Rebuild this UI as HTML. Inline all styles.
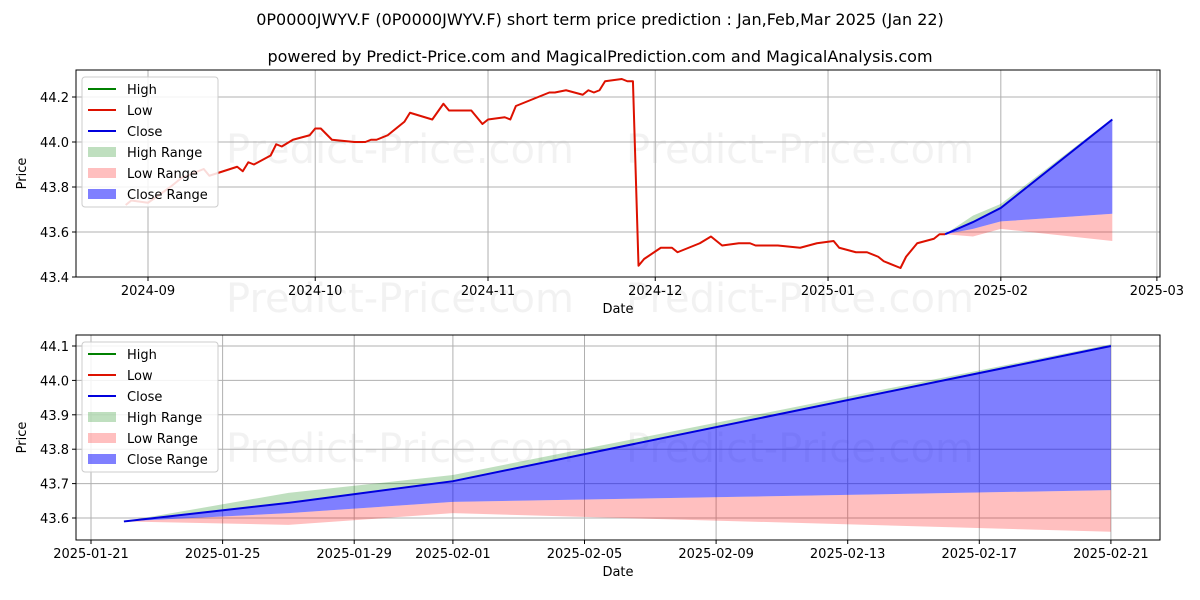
<!DOCTYPE html>
<html><head><meta charset="utf-8">
<style>
body{margin:0;background:#fff;}
svg{display:block;font-family:"DejaVu Sans","Liberation Sans",sans-serif;}
</style></head>
<body>
<svg id="chart" width="1200" height="600" viewBox="0 0 1200 600" xmlns="http://www.w3.org/2000/svg">
<text x="600" y="25" text-anchor="middle" font-size="16">0P0000JWYV.F (0P0000JWYV.F) short term price prediction : Jan,Feb,Mar 2025 (Jan 22)</text>
<text x="600" y="62" text-anchor="middle" font-size="16">powered by Predict-Price.com and MagicalPrediction.com and MagicalAnalysis.com</text>
<g id="top"></g>
<g id="bot"></g>
</svg>
<script>
// historical data: day offsets from 2024-09-01 and prices
const histDays = [-4,-3,0,4,6,10,11,16,17,18,19,22,23,24,26,29,30,31,33,37,39,40,41,43,46,47,51,53,54,58,60,61,64,65,66,68,72,73,75,78,79,80,81,82,85,86,87,88,89,92,94,95,99,101,103,106,108,109,113,117,120,123,124,127,129,131,132,135,136,138,141,142,143];
const histPrices = [43.72,43.74,43.73,43.80,43.84,43.88,43.85,43.89,43.87,43.91,43.90,43.94,43.99,43.98,44.01,44.03,44.06,44.06,44.01,44.00,44.00,44.01,44.01,44.03,44.09,44.13,44.10,44.17,44.14,44.14,44.08,44.10,44.11,44.10,44.16,44.18,44.22,44.22,44.23,44.21,44.23,44.22,44.23,44.27,44.28,44.27,44.27,43.45,43.48,43.53,43.53,43.51,43.55,43.58,43.54,43.55,43.55,43.54,43.54,43.53,43.55,43.56,43.53,43.51,43.51,43.49,43.47,43.44,43.49,43.55,43.57,43.59,43.59];
// forecast: day offsets from 2024-09-01 (Jan22, Jan27, Feb1, Feb21)
const fcDays = [143,148,153,173];
const fcClose = [43.59,43.644,43.707,44.10];
const fcHighTop = [43.59,43.673,43.725,44.105];
const fcCloseLow = [43.59,43.614,43.647,43.681];
const fcLowLow = [43.59,43.58,43.614,43.56];
const topXTicks = ["2024-09","2024-10","2024-11","2024-12","2025-01","2025-02","2025-03"];
const topXTickDays = [0,30,61,91,122,153,181];
const topYTicks = [43.4,43.6,43.8,44.0,44.2];
const botXTicks = ["2025-01-21","2025-01-25","2025-01-29","2025-02-01","2025-02-05","2025-02-09","2025-02-13","2025-02-17","2025-02-21"];
const botXTickDays = [142,146,150,153,157,161,165,169,173];
const botYTicks = [43.6,43.7,43.8,43.9,44.0,44.1];

const NS="http://www.w3.org/2000/svg";
function mk(parent,tag,attrs){const e=document.createElementNS(NS,tag);for(const k in attrs)e.setAttribute(k,attrs[k]);parent.appendChild(e);return e;}

function panel(g,cfg){
  const {L,R,T,B,xs,ys,xTicks,xTickDays,yTicks,showHist,wmY}=cfg;
  for(const wx of [400,800]){
    for(const wy of wmY){
      const w=mk(g,'text',{x:wx,y:wy,'text-anchor':'middle','font-size':40,fill:'#000','fill-opacity':0.05});
      
      
      w.textContent='Predict-Price.com';
    }
  }
  xTickDays.forEach((d,i)=>{
    const x=xs(d);
    const l=mk(g,'line',{x1:x,x2:x,y1:T,y2:B,stroke:'#b0b0b0','stroke-width':1});
    
    
    mk(g,'line',{x1:x,x2:x,y1:B,y2:B+4,stroke:'#000'});
    const t=mk(g,'text',{x:x,y:B+18,'text-anchor':'middle','font-size':13});
    
    
    t.textContent=xTicks[i];
  });
  yTicks.forEach(v=>{
    const y=ys(v);
    const l=mk(g,'line',{x1:L,x2:R,y1:y,y2:y,stroke:'#b0b0b0','stroke-width':1});
    
    
    mk(g,'line',{x1:L-4,x2:L,y1:y,y2:y,stroke:'#000'});
    const t=mk(g,'text',{x:L-7,y:y+5,'text-anchor':'end','font-size':13});
    
    
    t.textContent=v.toFixed(1);
  });
  function band(top,bot,color,op,name){
    let d='M'+fcDays.map((dd,i)=>xs(dd)+','+ys(top[i])).join('L');
    for(let i=fcDays.length-1;i>=0;i--)d+='L'+xs(fcDays[i])+','+ys(bot[i]);
    const p=mk(g,'path',{d:d+'Z',fill:color,'fill-opacity':op});
    
    
  }
  band(fcHighTop,fcClose,'#008000',0.25,'high-range-band');
  band(fcCloseLow,fcLowLow,'#ff0000',0.25,'low-range-band');
  band(fcClose,fcCloseLow,'#0000ff',0.5,'close-range-band');
  if(showHist){
    const p=mk(g,'polyline',{points:histDays.map((d,i)=>xs(d)+','+ys(histPrices[i])).join(' '),fill:'none',stroke:'#dd1100','stroke-width':2,'stroke-linejoin':'round'});
    
    
  }
  const c=mk(g,'polyline',{points:fcDays.map((d,i)=>xs(d)+','+ys(fcClose[i])).join(' '),fill:'none',stroke:'#0000dd','stroke-width':2});
  
  
  const f=mk(g,'rect',{x:L,y:T,width:R-L,height:B-T,fill:'none',stroke:'#000','stroke-width':1});
  
  
  const xt=mk(g,'text',{x:(L+R)/2,y:B+36,'text-anchor':'middle','font-size':13});
  
  
  xt.textContent='Date';
  const yt=mk(g,'text',{x:26,y:(T+B)/2,'text-anchor':'middle','font-size':13,transform:`rotate(-90 26 ${(T+B)/2})`});
  
  
  yt.textContent='Price';
  const lg=mk(g,'g',{});
  
  
  mk(lg,'rect',{x:L+6,y:T+7,width:136,height:130,rx:3,fill:'#fff','fill-opacity':0.85,stroke:'#ccc'});
  const items=[['High','line','#008000'],['Low','line','#dd1100'],['Close','line','#0000dd'],['High Range','patch','rgba(0,128,0,0.25)'],['Low Range','patch','rgba(255,0,0,0.25)'],['Close Range','patch','rgba(0,0,255,0.5)']];
  items.forEach((it,i)=>{
    const y=T+19+i*21;
    const e=mk(lg,'g',{});
    
    
    if(it[1]==='line')mk(e,'line',{x1:L+12,x2:L+40,y1:y,y2:y,stroke:it[2],'stroke-width':2});
    else mk(e,'rect',{x:L+12,y:y-5,width:28,height:10,fill:it[2]});
    const t=mk(e,'text',{x:L+51,y:y+5,'font-size':13});
    t.textContent=it[0];
  });
}
panel(document.getElementById('top'),{
  L:76,R:1160,T:70,B:277,
  xs:d=>148+d*5.574,
  ys:v=>277-(v-43.4)*225,
  xTicks:topXTicks,xTickDays:topXTickDays,yTicks:topYTicks,showHist:true,wmY:[163,312]
});
panel(document.getElementById('bot'),{
  L:76,R:1160,T:335,B:540,
  xs:d=>91+(d-142)*32.9,
  ys:v=>518-(v-43.6)*344,
  xTicks:botXTicks,xTickDays:botXTickDays,yTicks:botYTicks,showHist:false,wmY:[462]
});
</script>
</body></html>
